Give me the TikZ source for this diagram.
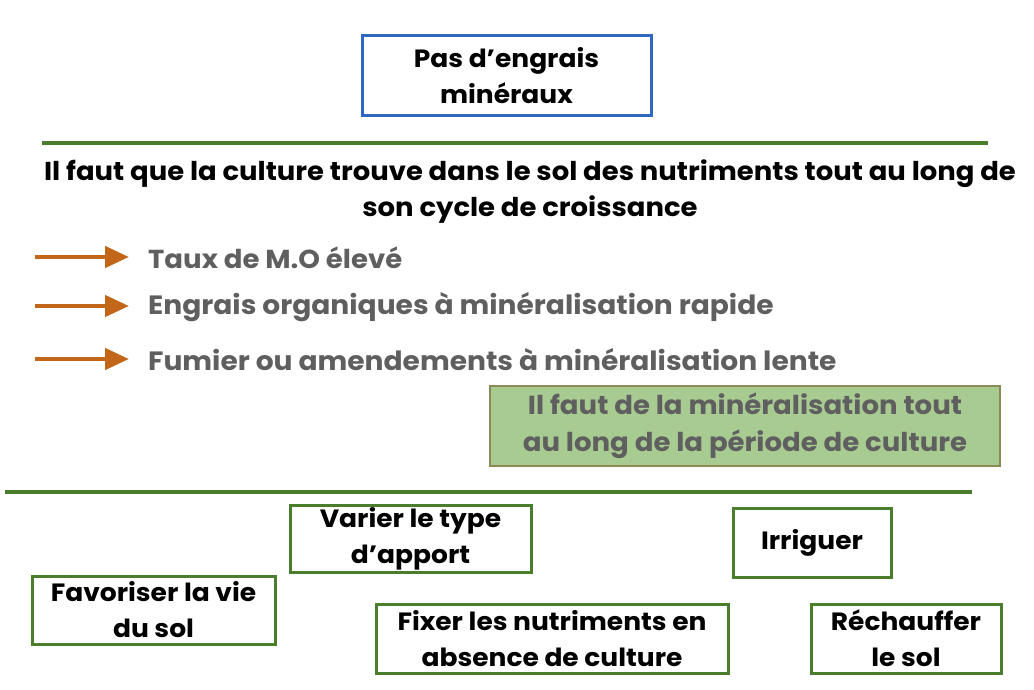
\documentclass[tikz,border=0pt]{standalone}
\usepackage{fontspec}
\setmainfont{Poppins}[BoldFont={Poppins Bold}, BoldFeatures={FakeStretch=1.06}]
\usetikzlibrary{arrows.meta}
\definecolor{bluebox}{HTML}{2F68C2}
\definecolor{gline}{HTML}{4A7D2C}
\definecolor{orangea}{HTML}{C2661A}
\definecolor{grayt}{HTML}{5F5F5F}
\definecolor{gfill}{HTML}{A8CB92}
\definecolor{gborder}{HTML}{8C8A55}
\tikzset{
  every node/.style={font=\bfseries\fontsize{25}{36}\selectfont, align=center, inner sep=0pt},
  bigf/.style={font=\bfseries\fontsize{26}{37}\selectfont},
  gbox/.style={draw=gline, line width=3pt, fill=white},
  arr/.style={draw=orangea, line width=4.5pt, -{Triangle[length=24pt,width=21pt]}},
  sep/.style={draw=gline, line width=4pt},
  grtext/.style={text=grayt, anchor=west, bigf}
}
\begin{document}
\begin{tikzpicture}[x=1pt,y=-1pt]
\useasboundingbox (0,0) rectangle (1034,690);
% top blue box
\node[draw=bluebox, line width=3pt, minimum width=289pt, minimum height=80pt] (engrais) at (506.5,76) {Pas d’engrais\\minéraux};
% separator 1
\coordinate (s1a) at (42,143); \coordinate (s1b) at (988,143);
\draw[sep] (s1a) -- (s1b);
\node[font=\bfseries\fontsize{25.9}{36}\selectfont] (principe) at (530,191.5) {Il faut que la culture trouve dans le sol des nutriments tout au long de\\son cycle de croissance};
% arrows
\coordinate (a1s) at (35,257); \coordinate (a1e) at (129,257);
\coordinate (a2s) at (35,306); \coordinate (a2e) at (129,306);
\coordinate (a3s) at (35,359); \coordinate (a3e) at (129,359);
\draw[arr] (a1s) -- (a1e);
\draw[arr] (a2s) -- (a2e);
\draw[arr] (a3s) -- (a3e);
\node[grtext] (t1) at (148,258) {Taux de M.O élevé};
\node[grtext, font=\bfseries\fontsize{26.5}{37}\selectfont] (t2) at (148,307) {Engrais organiques à minéralisation rapide};
\node[grtext, font=\bfseries\fontsize{26.5}{37}\selectfont] (t3) at (148,360) {Fumier ou amendements à minéralisation lente};
% green filled box
\node[draw=gborder, line width=1.2pt, fill=gfill, text=grayt, bigf, minimum width=510pt, minimum height=80pt] (miner) at (745,426) {Il faut de la minéralisation tout\\au long de la période de culture};
% separator 2
\coordinate (s2a) at (5,492); \coordinate (s2b) at (972,492);
\draw[sep] (s2a) -- (s2b);
% bottom boxes
\node[gbox, minimum width=241pt, minimum height=67pt] (varier) at (410.5,538.5) {Varier le type\\d’apport};
\node[gbox, minimum width=158pt, minimum height=69pt] (irriguer) at (812,542.5) {Irriguer};
\node[gbox, minimum width=243pt, minimum height=68pt] (favoriser) at (153.5,610) {Favoriser la vie\\du sol};
\node[gbox, minimum width=352pt, minimum height=69pt] (fixer) at (552,638.5) {Fixer les nutriments en\\absence de culture};
\node[gbox, minimum width=190pt, minimum height=69pt] (rechauffer) at (906,638.5) {Réchauffer\\le sol};
\end{tikzpicture}
\end{document}
